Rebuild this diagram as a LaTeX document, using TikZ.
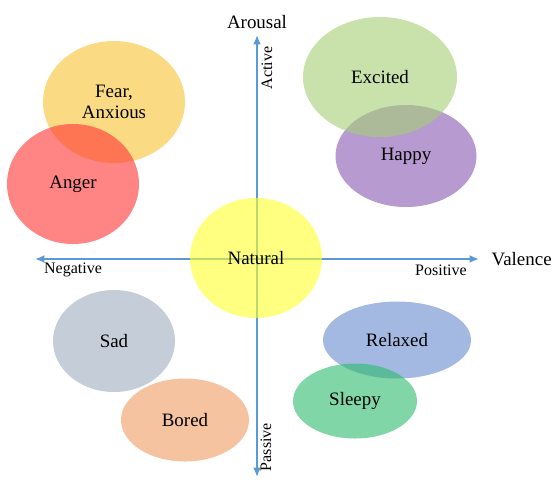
\documentclass[tikz,border=0pt]{standalone}
\usepackage{fontspec}
\setmainfont{Liberation Serif}
\usetikzlibrary{positioning, shapes.geometric, arrows.meta}
\definecolor{axisblue}{RGB}{91,155,213}
\definecolor{fearcol}{RGB}{248,193,50}
\definecolor{angercol}{RGB}{255,50,50}
\definecolor{excitedcol}{RGB}{165,207,117}
\definecolor{happycol}{RGB}{135,88,177}
\definecolor{naturalcol}{RGB}{255,255,43}
\definecolor{sadcol}{RGB}{158,172,192}
\definecolor{boredcol}{RGB}{238,155,97}
\definecolor{relaxedcol}{RGB}{103,138,205}
\definecolor{sleepycol}{RGB}{43,187,107}
\tikzset{
    mood/.style={ellipse, inner sep=0pt, fill opacity=0.6, text opacity=1, align=center, font=\fontsize{14.2}{16}\selectfont},
    size/.style 2 args={minimum width=#1*0.75pt, minimum height=#2*0.75pt},
    axis/.style={line width=2.2pt, axisblue, {Latex[length=7pt,width=6pt]}-{Latex[length=7pt,width=6pt]}},
    axis label/.style={font=\fontsize{14.2}{16}\selectfont},
    pole label/.style={font=\fontsize{12}{14}\selectfont}
}
\begin{document}
\begin{tikzpicture}[x=0.75pt,y=-0.75pt]
    \useasboundingbox (0,0) rectangle (553,479);

    % --- Emotion ellipses ---
    \node (fear) [mood, fill=fearcol, size={142}{122}] at (114,102) {Fear,\\Anxious};
    \node (anger) [mood, fill=angercol, size={132}{120}] at (73,184) {Anger};
    \node (happy) [mood, fill=happycol, size={141}{102}] at (406,156) {Happy};
    \node (excited) [mood, fill=excitedcol, size={154}{120}] at (380,77) {Excited};
    \node (sad) [mood, fill=sadcol, size={122}{102}] at (114,341) {Sad};
    \node (bored) [mood, fill=boredcol, size={128}{83}] at (185,420) {Bored};
    \node (relaxed) [mood, fill=relaxedcol, size={148}{77}] at (397,340) {Relaxed};
    \node (sleepy) [mood, fill=sleepycol, size={124}{75}] at (355,401) {Sleepy};

    % --- Axes ---
    \coordinate (negEnd) at (35,259);
    \coordinate (posEnd) at (479,259);
    \coordinate (actEnd) at (257,35);
    \coordinate (pasEnd) at (257,477);
    \draw[axis] (negEnd) -- (posEnd);
    \draw[axis] (pasEnd) -- (actEnd);

    % --- Axis labels ---
    \node (valence) [axis label, right=6pt of posEnd] {Valence};
    \node (arousal) [axis label, above=1pt of actEnd] {Arousal};
    \node (negative) [pole label] at (73,270) {Negative};
    \node (positive) [pole label] at (441,270) {Positive};
    \node (active) [pole label, rotate=90] at (267,68) {Active};
    \node (passive) [pole label, rotate=90] at (266,447) {Passive};

    % --- Centre ---
    \node (natural) [mood, fill=naturalcol, size={132}{120}] at (256,258) {Natural};
\end{tikzpicture}
\end{document}
